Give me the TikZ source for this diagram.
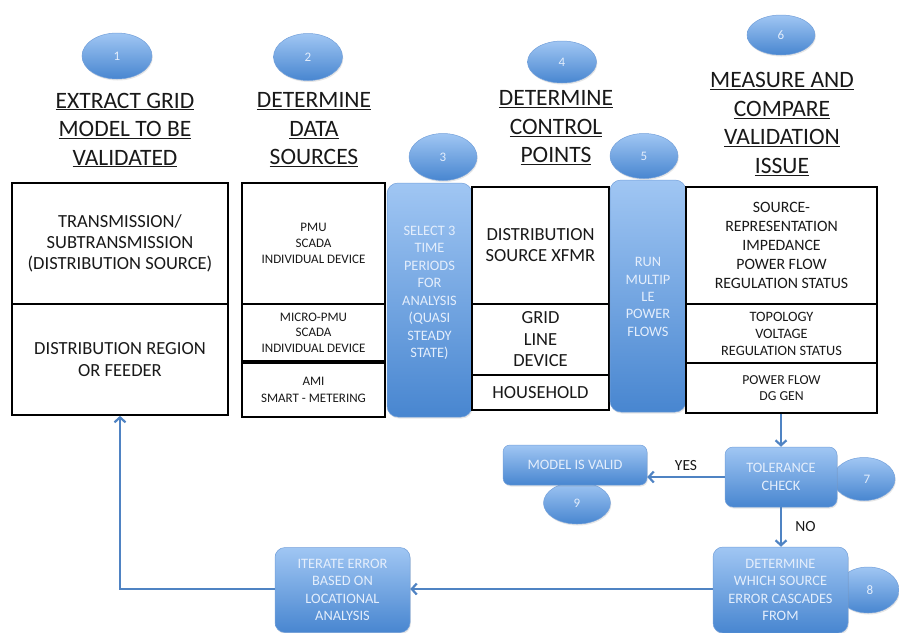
\documentclass[tikz,border=0pt]{standalone}
\usepackage{fontspec}
\setmainfont{Carlito}
\usetikzlibrary{shapes.geometric,arrows.meta,shadows}
\definecolor{bluetop}{RGB}{160,198,243}
\definecolor{bluebot}{RGB}{72,134,208}
\definecolor{blueedge}{RGB}{115,160,218}
\definecolor{blueline}{RGB}{79,131,195}
\definecolor{paletext}{RGB}{228,238,252}
\definecolor{headtext}{RGB}{25,25,25}
\tikzset{
  badge/.style={ellipse, minimum width=68pt, minimum height=45pt, inner sep=0pt,
    top color=bluetop, bottom color=bluebot, draw=blueedge, line width=0.5pt,
    text=paletext, font=\fontsize{13}{15}\selectfont,
    drop shadow={opacity=0.2, shadow xshift=0.8pt, shadow yshift=-1.5pt}},
  bluebox/.style={rounded corners=11pt, inner sep=0pt, align=center,
    top color=bluetop, bottom color=bluebot, draw=blueedge, line width=0.5pt,
    text=paletext, font=\fontsize{14.4}{17.4}\selectfont,
    drop shadow={opacity=0.2, shadow xshift=0.8pt, shadow yshift=-1.5pt}},
  heading/.style={align=center, text=headtext, font=\fontsize{23.5}{28.5}\selectfont},
  plainbox/.style={draw=black, line width=1.7pt, fill=white, inner sep=0pt, align=center, text=headtext},
  flow/.style={draw=blueline, line width=2.2pt, -{Straight Barb[length=5pt,width=11pt,line width=2.2pt]}},
  lbl/.style={text=headtext, font=\fontsize{15.5}{18}\selectfont}
}
\begin{document}
\begin{tikzpicture}[x=1pt,y=-1pt]
\useasboundingbox (0,0) rectangle (899,632);
% badges behind boxes
\node[badge, minimum width=62pt, minimum height=43pt] (b7) at (864,479) {\hspace*{6pt}7};
\node[badge, minimum width=62pt, minimum height=46pt] (b8) at (868,590) {\hspace*{4pt}8};
\node[badge, minimum width=67pt, minimum height=42pt] (b9) at (577,503) {\raisebox{-3pt}{9}};
% numbered badges at top
\node[badge, minimum width=70pt, minimum height=46pt] (b1) at (117,56) {1};
\node[badge, minimum width=69pt, minimum height=47pt] (b2) at (308,57) {2};
\node[badge, minimum width=68pt, minimum height=47pt] (b3) at (443,157) {3};
\node[badge, minimum width=69pt, minimum height=42pt] (b4) at (562,62) {4};
\node[badge, minimum width=68pt, minimum height=45pt] (b5) at (644,156) {5};
\node[badge, minimum width=68pt, minimum height=40pt] (b6) at (781,35) {6};
% headings
\node[heading] (h1) at (125,130) {\underline{EXTRACT GRID}\\\underline{MODEL TO BE}\\\underline{VALIDATED}};
\node[heading] (h2) at (314,130) {\underline{DETERMINE}\\\underline{DATA}\\\underline{SOURCES}};
\node[heading] (h4) at (556,128) {\underline{DETERMINE}\\\underline{CONTROL}\\\underline{POINTS}};
\node[heading] (h6) at (782,124) {\underline{MEASURE AND}\\\underline{COMPARE}\\\underline{VALIDATION}\\\underline{ISSUE}};
% column 1
\node[plainbox, minimum width=216pt, minimum height=121pt, font=\fontsize{18.5}{21}\selectfont] (c1a) at (120,243.5) {TRANSMISSION/\\SUBTRANSMISSION\\(DISTRIBUTION SOURCE)};
\node[plainbox, minimum width=216pt, minimum height=111pt, font=\fontsize{18.5}{21.5}\selectfont] (c1b) at (120,359.5) {DISTRIBUTION REGION\\OR FEEDER};
% column 2
\node[plainbox, minimum width=143pt, minimum height=121pt, font=\fontsize{13}{16}\selectfont] (c2a) at (313.5,243.5) {PMU\\SCADA\\INDIVIDUAL DEVICE};
\node[plainbox, minimum width=143pt, minimum height=57pt, font=\fontsize{13}{15.5}\selectfont] (c2b) at (313.5,332.5) {MICRO-PMU\\SCADA\\INDIVIDUAL DEVICE};
\node[plainbox, minimum width=143pt, minimum height=54pt, font=\fontsize{13}{16.5}\selectfont] (c2c) at (313.5,390) {AMI\\SMART - METERING};
% column 3
\node[bluebox, minimum width=85pt, minimum height=234pt] (c3) at (429.5,300) {};
\node[text=paletext, align=center, font=\fontsize{14.4}{17.5}\selectfont] (c3t) at (429.5,293) {SELECT 3\\TIME\\PERIODS\\FOR\\ANALYSIS\\(QUASI\\STEADY\\STATE)};
% column 4
\node[plainbox, minimum width=137pt, minimum height=117pt, font=\fontsize{18.5}{21}\selectfont] (c4a) at (540.5,245.5) {DISTRIBUTION\\SOURCE XFMR};
\node[plainbox, minimum width=137pt, minimum height=71pt, font=\fontsize{18.5}{21.5}\selectfont] (c4b) at (540.5,339.5) {GRID\\LINE\\DEVICE};
\node[plainbox, minimum width=137pt, minimum height=35pt, font=\fontsize{18.5}{21}\selectfont] (c4c) at (540.5,392.5) {HOUSEHOLD};
% column 5
\node[bluebox, minimum width=76pt, minimum height=232pt] (c5) at (648,296) {};
\node[text=paletext, align=center, font=\fontsize{14.4}{17.3}\selectfont] (c5t) at (648,297) {RUN\\MULTIP\\LE\\POWER\\FLOWS};
% column 6
\node[plainbox, minimum width=191pt, minimum height=117pt, font=\fontsize{15.8}{18.8}\selectfont] (c6a) at (781.5,245.5) {SOURCE-\\REPRESENTATION\\IMPEDANCE\\POWER FLOW\\REGULATION STATUS};
\node[plainbox, minimum width=191pt, minimum height=59pt, font=\fontsize{14.3}{17}\selectfont] (c6b) at (781.5,333.5) {TOPOLOGY\\VOLTAGE\\REGULATION STATUS};
\node[plainbox, minimum width=191pt, minimum height=50pt, font=\fontsize{13.7}{16}\selectfont] (c6c) at (781.5,388) {POWER FLOW\\DG GEN};
% lower flow
\node[bluebox, rounded corners=8pt, minimum width=112pt, minimum height=60pt] (tol) at (781,477) {TOLERANCE\\CHECK};
\node[bluebox, rounded corners=7pt, minimum width=144pt, minimum height=40pt] (valid) at (575,465) {MODEL IS VALID};
\node[bluebox, rounded corners=10pt, minimum width=135pt, minimum height=86pt] (det) at (780.5,590) {DETERMINE\\WHICH SOURCE\\ERROR CASCADES\\FROM};
\node[bluebox, rounded corners=10pt, minimum width=135pt, minimum height=85pt] (iter) at (342.5,590) {ITERATE ERROR\\BASED ON\\LOCATIONAL\\ANALYSIS};
\coordinate (corner) at (120,589);
% connectors
\draw[flow] (c6c.south -| tol.north) -- (tol.north);
\draw[flow] (tol.west) -- node[lbl, above, yshift=2pt] (yes) {YES} (tol.west -| valid.east);
\draw[flow] (tol.south) -- node[lbl, right, xshift=10pt] (no) {NO} (det.north -| tol.south);
\draw[flow] (det.west |- corner) -- (iter.east |- corner);
\draw[flow] (iter.west |- corner) -- (corner) -- (c1b.south -| corner);
\end{tikzpicture}
\end{document}
